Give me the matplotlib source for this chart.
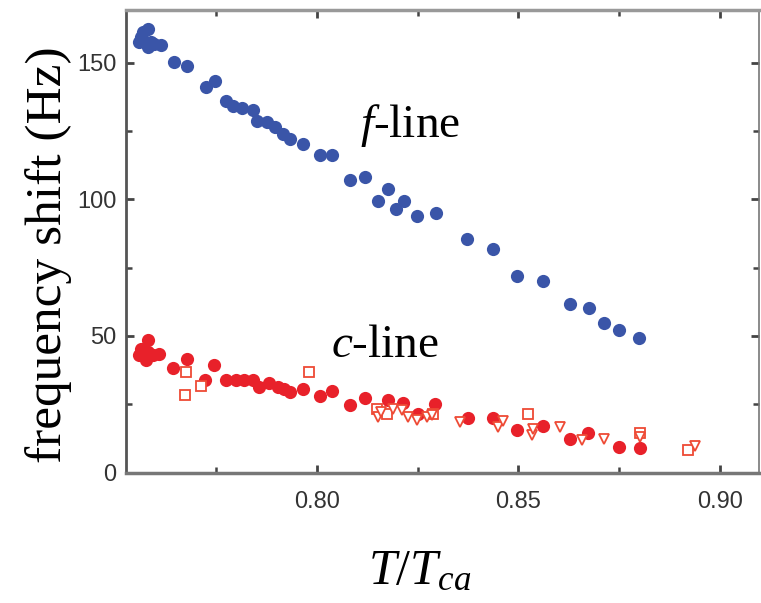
import matplotlib
matplotlib.use('Agg')
import matplotlib.pyplot as plt
from matplotlib.ticker import MultipleLocator

# f-line (blue, filled circles)
f_line_t = [0.7559, 0.7563, 0.7567, 0.7580, 0.7580, 0.7588, 0.7596, 0.7613, 0.7644, 0.7677,
            0.7725, 0.7748, 0.7774, 0.7792, 0.7813, 0.7842, 0.7850, 0.7875, 0.7896, 0.7916,
            0.7933, 0.7965, 0.8007, 0.8036, 0.8082, 0.8119, 0.8152, 0.8177, 0.8196, 0.8216,
            0.8249, 0.8295, 0.8373, 0.8436, 0.8496, 0.8560, 0.8628, 0.8676, 0.8713, 0.8749,
            0.8800]
f_line_hz = [157.6, 159.4, 161.2, 162.5, 155.8, 157.6, 157.0, 156.7, 150.5, 148.7,
             141.3, 143.2, 136.2, 134.4, 133.4, 132.6, 128.9, 128.3, 126.5, 124.0,
             122.2, 120.4, 116.1, 116.1, 107.0, 108.4, 99.6, 103.9, 96.6, 99.6,
             93.9, 95.0, 85.6, 82.0, 71.8, 70.0, 61.6, 60.4, 54.9, 52.1,
             49.4]

# c-line (red, filled circles)
c_line_t = [0.7559, 0.7563, 0.7576, 0.7580, 0.7580, 0.7592, 0.7609, 0.7642, 0.7677, 0.7722,
            0.7745, 0.7774, 0.7799, 0.7820, 0.7840, 0.7857, 0.7882, 0.7902, 0.7919, 0.7933,
            0.7966, 0.8007, 0.8036, 0.8082, 0.8119, 0.8177, 0.8214, 0.8251, 0.8293, 0.8375,
            0.8437, 0.8496, 0.8562, 0.8628, 0.8673, 0.8750, 0.8801]
c_line_hz = [42.9, 45.4, 41.1, 48.4, 44.2, 42.9, 43.5, 38.1, 41.7, 33.8,
             39.3, 33.8, 33.8, 33.8, 33.8, 31.3, 32.6, 31.3, 30.7, 29.5,
             30.7, 28.1, 29.9, 24.6, 27.4, 26.7, 25.5, 21.6, 25.2, 20.0,
             20.0, 15.5, 17.1, 12.4, 14.3, 9.4, 9.0]

# c-line, open squares
sq_t = [0.7673, 0.7675, 0.7712, 0.7981, 0.8148, 0.8173, 0.8289, 0.8524, 0.8801, 0.8921]
sq_hz = [28.3, 36.8, 31.7, 36.8, 23.4, 21.6, 21.6, 21.6, 14.3, 8.2]

# c-line, open down triangles
tri_t = [0.8152, 0.8160, 0.8189, 0.8210, 0.8227, 0.8247, 0.8272, 0.8285, 0.8355, 0.8450,
         0.8462, 0.8533, 0.8537, 0.8603, 0.8657, 0.8712, 0.8801, 0.8938]
tri_hz = [20.4, 22.0, 23.4, 22.8, 20.4, 19.1, 20.4, 21.0, 18.5, 16.7,
          18.8, 13.6, 16.1, 16.7, 11.8, 12.4, 13.0, 9.8]

x_ticks = [0.80, 0.85, 0.90]
y_ticks = [0, 50, 100, 150]

plt.rcParams['mathtext.fontset'] = 'custom'
plt.rcParams['mathtext.rm'] = 'Liberation Serif'
plt.rcParams['mathtext.it'] = 'Liberation Serif:italic'

BLUE = '#3a55a8'
RED = '#e8212a'
OPEN = '#ee4a35'


def draw_chart(png_file):
    fig = plt.figure(figsize=(7.61, 6.03), dpi=100)
    ax = fig.add_axes([0.1656, 0.2164, 0.8318, 0.7662])

    ax.plot(f_line_t, f_line_hz, 'o', color=BLUE, markersize=9.5, markeredgewidth=0)
    ax.plot(c_line_t, c_line_hz, 'o', color=RED, markersize=9.5, markeredgewidth=0)
    ax.plot(sq_t, sq_hz, 's', markerfacecolor='white', markeredgecolor=OPEN,
            markersize=6.5, markeredgewidth=1.3)
    ax.plot(tri_t, tri_hz, 'v', markerfacecolor='white', markeredgecolor=OPEN,
            markersize=7.5, markeredgewidth=1.3)

    ax.set_xlim(0.7526, 0.9097)
    ax.set_ylim(0, 169.2)
    ax.set_xticks(x_ticks)
    ax.set_xticklabels(['{:.2f}'.format(t) for t in x_ticks])
    ax.set_yticks(y_ticks)
    ax.xaxis.set_minor_locator(MultipleLocator(0.025))
    ax.yaxis.set_minor_locator(MultipleLocator(25))

    ax.tick_params(which='both', direction='in', top=True, right=True, color='#444444')
    ax.tick_params(which='major', length=6, width=2)
    ax.tick_params(which='minor', length=4, width=1.8)
    ax.tick_params(axis='x', which='major', pad=13)
    ax.tick_params(axis='y', which='major', pad=7)
    for label in ax.get_xticklabels() + ax.get_yticklabels():
        label.set_fontfamily('Liberation Sans')
        label.set_fontsize(17)
        label.set_color('#333333')

    ax.spines['left'].set_color('#555555')
    ax.spines['left'].set_linewidth(2)
    ax.spines['bottom'].set_color('#777777')
    ax.spines['bottom'].set_linewidth(2.5)
    ax.spines['top'].set_color('#999999')
    ax.spines['top'].set_linewidth(2.5)
    ax.spines['right'].set_color('#777777')
    ax.spines['right'].set_linewidth(1.2)

    ax.text(0.8231, 122.9, '$f$-line', ha='center', va='baseline',
            fontsize=34, family='Liberation Serif')
    ax.text(0.8169, 42.4, '$c$-line', ha='center', va='baseline',
            fontsize=34, family='Liberation Serif')

    ax.set_ylabel('frequency shift (Hz)', fontsize=37, family='Liberation Serif')
    ax.yaxis.set_label_coords(-0.0853, 0.4708)
    ax.set_xlabel('$T/T_{ca}$', fontsize=36)
    ax.xaxis.set_label_coords(0.4645, -0.160)

    fig.savefig(png_file, dpi=100)


draw_chart('out.png')
